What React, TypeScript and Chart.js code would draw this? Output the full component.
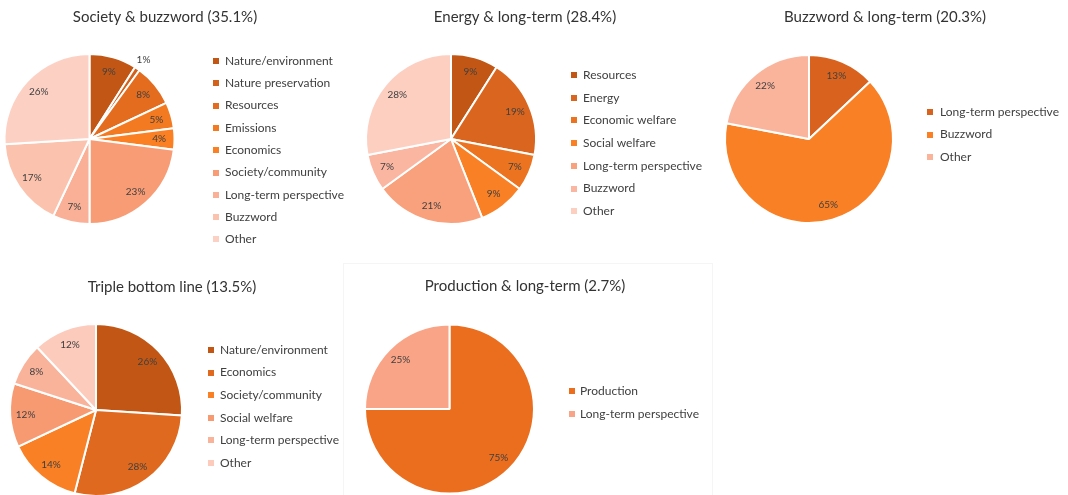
import React, { useEffect, useRef } from "react";
import { Chart, registerables } from "chart.js";

Chart.register(...registerables);

const FONT = "Lato, 'Open Sans', sans-serif";

// ---- Data ----
const p1Title = "Society & buzzword (35.1%)";
const p1Labels = ["Nature/environment", "Nature preservation", "Resources", "Emissions", "Economics", "Society/community", "Long-term perspective", "Buzzword", "Other"];
const p1Values = [9, 1, 8, 5, 4, 23, 7, 17, 26];
const p1Colors = ["#C25715", "#D2611C", "#E46C1E", "#F47A21", "#FA8023", "#F89C75", "#F9B097", "#FBC2AE", "#FCD1C4"];

const p2Title = "Energy & long-term (28.4%)";
const p2Labels = ["Resources", "Energy", "Economic welfare", "Social welfare", "Long-term perspective", "Buzzword", "Other"];
const p2Values = [9, 19, 7, 9, 21, 7, 28];
const p2Colors = ["#C25715", "#DA651E", "#EC7420", "#FA8025", "#F9A07C", "#FBB6A2", "#FCCFC1"];

const p3Title = "Buzzword & long-term (20.3%)";
const p3Labels = ["Long-term perspective", "Buzzword", "Other"];
const p3Values = [13, 65, 22];
const p3Colors = ["#D9631E", "#F98025", "#FAB49C"];

const p4Title = "Triple bottom line (13.5%)";
const p4Labels = ["Nature/environment", "Economics", "Society/community", "Social welfare", "Long-term perspective", "Other"];
const p4Values = [26, 28, 14, 12, 8, 12];
const p4Colors = ["#C25715", "#DF691E", "#FA8025", "#F79A72", "#FAB39B", "#FCCBBB"];

const p5Title = "Production & long-term (2.7%)";
const p5Labels = ["Production", "Long-term perspective"];
const p5Values = [75, 25];
const p5Colors = ["#EB6E1F", "#FAA487"];

type Spec = {
  title: string;
  labels: string[];
  values: number[];
  colors: string[];
  outside: number[];
  left: number; top: number; width: number; height: number;
  cx: number; cy: number; r: number;
  titleX: number; titleY: number;
  legendX: number; legendTextX: number; legendY: number; legendStep: number;
};

const specs: Spec[] = [
  {
    title: p1Title, labels: p1Labels, values: p1Values, colors: p1Colors, outside: [1],
    left: 0, top: 0, width: 356, height: 255,
    cx: 89.5, cy: 139, r: 85,
    titleX: 165, titleY: 17,
    legendX: 213, legendTextX: 225, legendY: 61, legendStep: 22.3,
  },
  {
    title: p2Title, labels: p2Labels, values: p2Values, colors: p2Colors, outside: [],
    left: 356, top: 0, width: 356, height: 255,
    cx: 451, cy: 139, r: 85,
    titleX: 525, titleY: 17,
    legendX: 571, legendTextX: 583, legendY: 75, legendStep: 22.7,
  },
  {
    title: p3Title, labels: p3Labels, values: p3Values, colors: p3Colors, outside: [],
    left: 712, top: 0, width: 356, height: 255,
    cx: 809, cy: 139, r: 84,
    titleX: 885, titleY: 17,
    legendX: 927, legendTextX: 940, legendY: 112, legendStep: 22.5,
  },
  {
    title: p4Title, labels: p4Labels, values: p4Values, colors: p4Colors, outside: [],
    left: 0, top: 255, width: 343, height: 250,
    cx: 96, cy: 410, r: 86,
    titleX: 172, titleY: 287,
    legendX: 208, legendTextX: 220, legendY: 350, legendStep: 22.6,
  },
  {
    title: p5Title, labels: p5Labels, values: p5Values, colors: p5Colors, outside: [],
    left: 345, top: 255, width: 368, height: 250,
    cx: 449.5, cy: 409, r: 84.5,
    titleX: 525, titleY: 286,
    legendX: 569, legendTextX: 580, legendY: 391, legendStep: 23,
  },
];

function PiePanel({ spec }: { spec: Spec }) {
  const ref = useRef<HTMLCanvasElement | null>(null);
  useEffect(() => {
    if (!ref.current) return;
    const bw = 2;
    const lx = spec.cx - spec.left;
    const ly = spec.cy - spec.top;
    const padding = {
      left: lx - spec.r - bw / 2,
      top: ly - spec.r - bw / 2,
      right: spec.width - (lx + spec.r + bw / 2),
      bottom: spec.height - (ly + spec.r + bw / 2),
    };
    const overlay = {
      id: "overlay",
      afterDatasetsDraw(chart: any) {
        const ctx = chart.ctx as CanvasRenderingContext2D;
        const meta = chart.getDatasetMeta(0);
        ctx.save();
        ctx.textAlign = "center";
        ctx.textBaseline = "middle";
        ctx.font = `10px ${FONT}`;
        ctx.fillStyle = "#404040";
        meta.data.forEach((arc: any, i: number) => {
          const p = arc.getProps(["x", "y", "startAngle", "endAngle", "outerRadius"], true);
          const mid = (p.startAngle + p.endAngle) / 2;
          const f = spec.outside.includes(i) ? 1.13 : 0.82;
          ctx.fillText(
            `${spec.values[i]}%`,
            p.x + Math.cos(mid) * p.outerRadius * f,
            p.y + Math.sin(mid) * p.outerRadius * f
          );
        });
        // title
        ctx.font = `15px ${FONT}`;
        ctx.fillStyle = "#333333";
        ctx.fillText(spec.title, spec.titleX - spec.left, spec.titleY - spec.top);
        // legend
        ctx.font = `12px ${FONT}`;
        ctx.textAlign = "left";
        spec.labels.forEach((label, i) => {
          const y = spec.legendY - spec.top + i * spec.legendStep;
          ctx.fillStyle = spec.colors[i];
          ctx.fillRect(spec.legendX - spec.left, Math.round(y - 3), 6, 6);
          ctx.fillStyle = "#404040";
          ctx.fillText(label, spec.legendTextX - spec.left, y);
        });
        ctx.restore();
      },
    };
    const chart = new Chart(ref.current, {
      type: "pie",
      data: {
        labels: spec.labels,
        datasets: [
          {
            data: spec.values,
            backgroundColor: spec.colors,
            borderColor: "#ffffff",
            borderWidth: bw,
          },
        ],
      },
      options: {
        animation: false,
        responsive: false,
        devicePixelRatio: 1,
        layout: { padding },
        plugins: {
          legend: { display: false },
          title: { display: false },
          tooltip: { enabled: false },
        },
      },
      plugins: [overlay],
    });
    return () => chart.destroy();
  }, [spec]);
  return (
    <canvas
      ref={ref}
      width={spec.width}
      height={spec.height}
      style={{ position: "absolute", left: spec.left, top: spec.top, width: spec.width, height: spec.height }}
    />
  );
}

export default function App() {
  return (
    <div
      style={{
        position: "fixed",
        left: 0,
        top: 0,
        width: 1068,
        height: 495,
        overflow: "hidden",
        background: "#ffffff",
      }}
    >
      <div
        style={{
          position: "absolute",
          left: 343,
          top: 263,
          width: 370,
          height: 240,
          border: "1px solid #f5f5f5",
          boxSizing: "border-box",
        }}
      />
      {specs.map((s, i) => (
        <PiePanel key={i} spec={s} />
      ))}
    </div>
  );
}
